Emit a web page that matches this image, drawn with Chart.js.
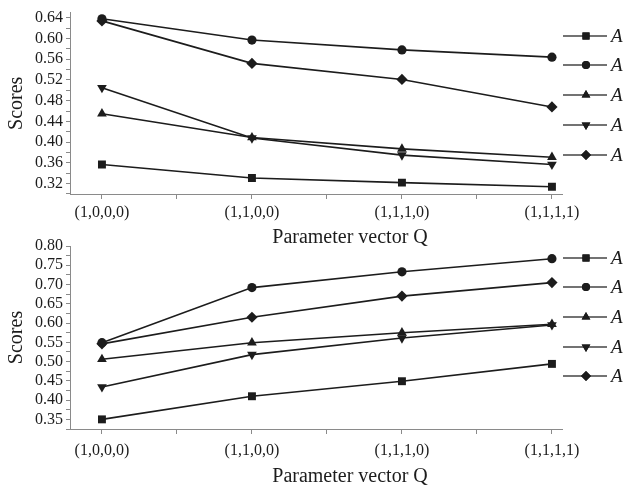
<!DOCTYPE html>
<html>
<head>
<meta charset="utf-8">
<script src="https://cdn.jsdelivr.net/npm/chart.js@4/dist/chart.umd.min.js"></script>
<style>
    html, body { margin: 0; padding: 0; background: #fff; }
    #wrap { position: relative; width: 623px; height: 488px; overflow: hidden; }
    canvas { position: absolute; left: 0; }
    #topChart { top: 0; }
    #bottomChart { top: 230px; }
</style>
</head>
<body>
<div id="wrap">
    <canvas id="topChart" width="623" height="250"></canvas>
    <canvas id="bottomChart" width="623" height="258"></canvas>
</div>
<script>
/* === DATA === */
const categories = ["(1,0,0,0)", "(1,1,0,0)", "(1,1,1,0)", "(1,1,1,1)"];
const seriesNames = ["A1", "A2", "A3", "A4", "A5"];

// upper panel
const topA1 = [0.357, 0.331, 0.322, 0.314];
const topA2 = [0.638, 0.597, 0.578, 0.564];
const topA3 = [0.455, 0.409, 0.387, 0.371];
const topA4 = [0.505, 0.408, 0.375, 0.357];
const topA5 = [0.634, 0.552, 0.521, 0.468];
const topTicks = [0.32, 0.36, 0.40, 0.44, 0.48, 0.52, 0.56, 0.60, 0.64];

// lower panel
const bottomA1 = [0.350, 0.410, 0.449, 0.494];
const bottomA2 = [0.549, 0.692, 0.733, 0.767];
const bottomA3 = [0.506, 0.549, 0.575, 0.597];
const bottomA4 = [0.434, 0.518, 0.561, 0.595];
const bottomA5 = [0.546, 0.615, 0.670, 0.705];
const bottomTicks = [0.35, 0.40, 0.45, 0.50, 0.55, 0.60, 0.65, 0.70, 0.75, 0.80];

const xTitle = "Parameter vector Q";
const yTitle = "Scores";

/* === STYLE === */
const FONT = "'Liberation Serif', 'DejaVu Serif', serif";
const INK = "#1c1c1c";
const AXIS = "#8a8a8a";
const markers = [
    { style: "rect", radius: 5.6, rotation: 0 },
    { style: "circle", radius: 4.6, rotation: 0 },
    { style: "triangle", radius: 5.6, rotation: 0 },
    { style: "triangle", radius: 5.6, rotation: 180 },
    { style: "rectRot", radius: 5.6, rotation: 0 },
];

// legend + x title drawn by hand (line with marker in the middle)
const sideLegend = {
    id: "sideLegend",
    afterDraw(chart, args, opts) {
        const ctx = chart.ctx;
        ctx.save();
        chart.data.datasets.forEach((ds, i) => {
            const y = opts.ys[i];
            ctx.strokeStyle = "#444";
            ctx.lineWidth = 1.6;
            ctx.beginPath();
            ctx.moveTo(563, y);
            ctx.lineTo(607, y);
            ctx.stroke();
            Chart.helpers.drawPoint(ctx, {
                pointStyle: markers[i].style,
                radius: markers[i].radius - 0.6,
                rotation: markers[i].rotation,
                borderWidth: 0,
            }, 586, y);
            ctx.fillStyle = INK;
            ctx.fill();
            ctx.font = "italic 19px " + FONT;
            ctx.textBaseline = "middle";
            ctx.textAlign = "left";
            ctx.fillText(ds.label.charAt(0), 611, y + 1);
            ctx.font = "italic 12px " + FONT;
            ctx.fillText(ds.label.slice(1), 624, y + 6);
        });
        ctx.font = "20px " + FONT;
        ctx.fillStyle = INK;
        ctx.textAlign = "center";
        ctx.textBaseline = "middle";
        ctx.fillText(xTitle, 350, opts.titleY);
        ctx.restore();
    }
};

function makePanel(canvasId, series, majors, yMin, yMax, decimals, layout) {
    const minors = [];
    const step = majors[1] - majors[0];
    for (let v = majors[0] - step / 2; v <= yMax + 1e-9; v += step) {
        if (v >= yMin - 1e-9) minors.push(v);
    }
    const isMajor = v => majors.some(m => Math.abs(m - v) < 1e-6);

    return new Chart(document.getElementById(canvasId), {
        type: "line",
        data: {
            datasets: series.map((vals, i) => ({
                label: seriesNames[i],
                data: vals.map((v, j) => ({ x: j, y: v })),
                borderColor: INK,
                borderWidth: 1.6,
                backgroundColor: INK,
                pointBackgroundColor: INK,
                pointBorderWidth: 0,
                pointStyle: markers[i].style,
                pointRadius: markers[i].radius,
                pointRotation: markers[i].rotation,
                tension: 0,
                fill: false,
            })),
        },
        options: {
            responsive: false,
            animation: false,
            events: [],
            layout: { padding: { left: 0, right: 61, top: layout.top, bottom: 0 } },
            plugins: {
                legend: { display: false },
                tooltip: { enabled: false },
                sideLegend: { ys: layout.legendYs, titleY: layout.titleY },
            },
            scales: {
                x: {
                    type: "linear",
                    min: -0.213,
                    max: 3.067,
                    afterBuildTicks: s => {
                        s.ticks = [0, 0.5, 1, 1.5, 2, 2.5, 3].map(v => ({ value: v }));
                    },
                    afterFit: s => { s.height = layout.xHeight; },
                    ticks: {
                        autoSkip: false,
                        maxRotation: 0,
                        padding: layout.xPad,
                        color: INK,
                        font: { family: FONT, size: 16 },
                        callback: v => Number.isInteger(v) ? categories[v] : "",
                    },
                    grid: { drawOnChartArea: false, tickLength: 5, color: AXIS },
                    border: { color: AXIS, width: 1 },
                },
                y: {
                    min: yMin,
                    max: yMax,
                    afterBuildTicks: s => {
                        s.ticks = majors.concat(minors).sort((a, b) => a - b).map(v => ({ value: v }));
                    },
                    afterFit: s => { s.width = 70; },
                    ticks: {
                        autoSkip: false,
                        padding: 3,
                        color: INK,
                        font: { family: FONT, size: 16 },
                        callback: v => isMajor(v) ? v.toFixed(decimals) : "",
                    },
                    grid: { drawOnChartArea: false, tickLength: 4, color: AXIS },
                    border: { color: AXIS, width: 1 },
                    title: {
                        display: true,
                        text: yTitle,
                        color: INK,
                        font: { family: FONT, size: 20 },
                        padding: { top: 5, bottom: 0 },
                    },
                },
            },
        },
        plugins: [sideLegend],
    });
}

makePanel("topChart", [topA1, topA2, topA3, topA4, topA5], topTicks, 0.30, 0.65, 2, {
    top: 10, xHeight: 56, xPad: 4, legendYs: [36, 65, 95, 125, 155], titleY: 238,
});

makePanel("bottomChart", [bottomA1, bottomA2, bottomA3, bottomA4, bottomA5], bottomTicks, 0.325, 0.80, 2, {
    top: 16, xHeight: 59, xPad: 7, legendYs: [28, 57, 87, 117, 146], titleY: 247,
});
</script>
</body>
</html>
